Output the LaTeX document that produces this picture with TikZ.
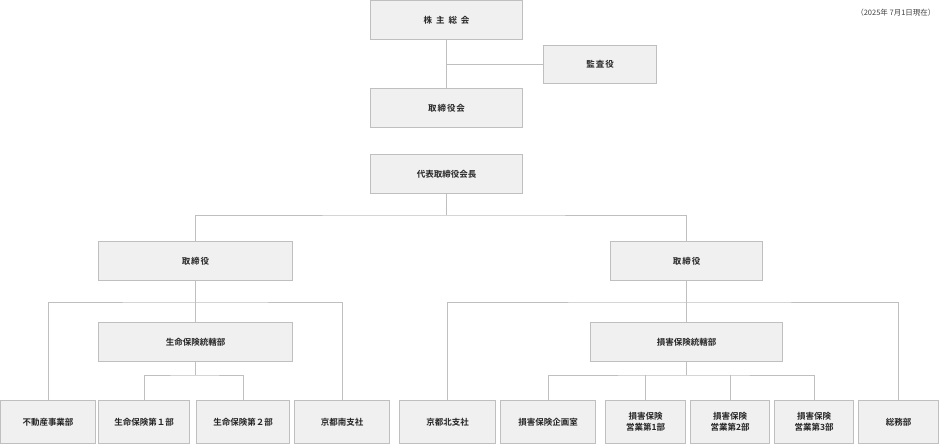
\documentclass[tikz,border=0pt]{standalone}
\usepackage{fontspec}
\setmainfont{Noto Sans CJK JP}
\newfontfamily\jpb{Noto Sans CJK JP Bold}
\begin{document}
\begin{tikzpicture}[x=1pt,y=-1pt,
  box/.style={draw=black!25,fill=black!6,line width=1pt,inner sep=0pt,align=center,font=\jpb\fontsize{8.5}{11}\selectfont,text=black!85},
  ln/.style={draw=black!25,line width=1pt}]
\useasboundingbox (0,0) rectangle (939,444);
\node[box,minimum width=152,minimum height=39] (sh) at (446.5,20) {株\hspace{4pt}主\hspace{4pt}総\hspace{4pt}会};
\node[box,minimum width=113,minimum height=38] (ka) at (600,64.5) {監\hspace{1pt}査\hspace{1pt}役};
\node[box,minimum width=152,minimum height=39] (tk) at (446.5,108) {取\hspace{1pt}締\hspace{1pt}役\hspace{1pt}会};
\node[box,minimum width=152,minimum height=39] (ch) at (446.5,174) {代表取締役会長};
\node[box,minimum width=194,minimum height=39] (tL) at (195.5,261) {取\hspace{1pt}締\hspace{1pt}役};
\node[box,minimum width=152,minimum height=39] (tR) at (686.5,261) {取\hspace{1pt}締\hspace{1pt}役};
\node[box,minimum width=194,minimum height=39] (sL) at (195.5,342) {生命保険統轄部};
\node[box,minimum width=192,minimum height=39] (sR) at (686.5,342) {損害保険統轄部};
\node[box,minimum width=95,minimum height=43] (fu) at (48,422) {不動産事業部};
\node[box,minimum width=91,minimum height=43] (s1) at (144,422) {生命保険第１部};
\node[box,minimum width=93,minimum height=43] (s2) at (243,422) {生命保険第２部};
\node[box,minimum width=95,minimum height=43] (mi) at (342,422) {京都南支社};
\node[box,minimum width=96,minimum height=43] (ki) at (447.5,422) {京都北支社};
\node[box,minimum width=95,minimum height=43] (kk) at (548,422) {損害保険企画室};
\node[box,minimum width=80,minimum height=43] (e1) at (645.5,422) {損害保険\\営業第1部};
\node[box,minimum width=79,minimum height=43] (e2) at (730,422) {損害保険\\営業第2部};
\node[box,minimum width=79,minimum height=43] (e3) at (814,422) {損害保険\\営業第3部};
\node[box,minimum width=80,minimum height=43] (so) at (898.5,422) {総務部};
\node[font=\fontsize{7.5}{9}\selectfont,text=black!75,anchor=east] (dt) at (939,13) {（2025年 7月1日現在）};
\coordinate (jA) at (446.5,64.5);
\coordinate (jT) at (446.5,215);
\coordinate (jL) at (195.5,302);
\coordinate (jR) at (686.5,302);
\coordinate (jL2) at (195.5,375);
\coordinate (jR2) at (686.5,375);
\draw[ln] (sh.south) -- (tk.north);
\draw[ln] (jA) -- (ka.west);
\draw[ln] (ch.south) -- (jT);
\draw[ln] (tL.north) |- (jT) -| (tR.north);
\draw[ln] (tL.south) -- (sL.north);
\draw[ln] (tR.south) -- (sR.north);
\draw[ln] (fu.north) |- (jL) -| (mi.north);
\draw[ln] (ki.north) |- (jR) -| (so.north);
\draw[ln] (sL.south) -- (jL2);
\draw[ln] (s1.north) |- (jL2) -| (s2.north);
\draw[ln] (sR.south) -- (jR2);
\draw[ln] (kk.north) |- (jR2) -| (e3.north);
\draw[ln] (e1.north) -- (e1.north |- jR2);
\draw[ln] (e2.north) -- (e2.north |- jR2);
\end{tikzpicture}
\end{document}
